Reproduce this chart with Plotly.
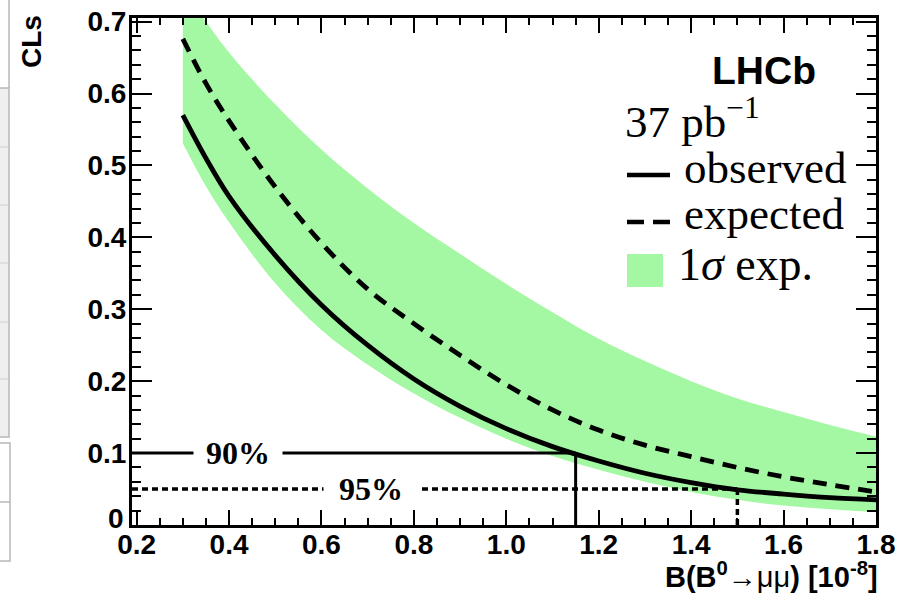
import plotly.graph_objects as go

# ---------------- data ----------------
x_grid = [0.3, 0.35, 0.4, 0.5, 0.6, 0.7, 0.8, 0.9, 1.0, 1.1, 1.2, 1.3, 1.4, 1.5, 1.6, 1.7, 1.8]
cls_observed = [0.570, 0.510, 0.457, 0.375, 0.306, 0.250, 0.203, 0.165, 0.134, 0.109, 0.089,
                0.072, 0.059, 0.049, 0.043, 0.038, 0.035]
cls_expected = [0.676, 0.614, 0.562, 0.470, 0.392, 0.328, 0.280, 0.236, 0.195, 0.160, 0.132,
                0.111, 0.095, 0.080, 0.067, 0.056, 0.046]
band_upper = [0.745, 0.700, 0.657, 0.585, 0.522, 0.468, 0.420, 0.377, 0.335, 0.296, 0.259,
              0.228, 0.200, 0.176, 0.157, 0.139, 0.123]
band_lower = [0.531, 0.471, 0.421, 0.336, 0.271, 0.223, 0.183, 0.149, 0.120, 0.096, 0.077,
              0.060, 0.046, 0.035, 0.027, 0.022, 0.018]

cl_levels = [0.10, 0.05]          # 90% and 95% CL levels
cl_limits = [1.15, 1.50]          # observed limits at 90% and 95% CL
cl_names = ["90%", "95%"]

x_range = [0.19, 1.8]
y_range = [0.0, 0.705]
x_tickvals = [0.2, 0.4, 0.6, 0.8, 1.0, 1.2, 1.4, 1.6, 1.8]
x_ticktext = ["0.2", "0.4", "0.6", "0.8", "1.0", "1.2", "1.4", "1.6", "1.8"]
y_tickvals = [0.0, 0.1, 0.2, 0.3, 0.4, 0.5, 0.6, 0.7]
y_ticktext = ["0", "0.1", "0.2", "0.3", "0.4", "0.5", "0.6", "0.7"]

GREEN = "#a4f8a4"
W, H = 897, 596
L, R, T, B = 132, 21, 18, 71


def px(xp):
    return (xp - L) / (W - L - R)


def py(yp):
    return 1 - (yp - T) / (H - T - B)


fig = go.Figure()

# 1 sigma band
fig.add_trace(go.Scatter(x=x_grid, y=band_lower, mode="lines", line=dict(width=0, shape="spline"),
                         showlegend=False, hoverinfo="skip"))
fig.add_trace(go.Scatter(x=x_grid, y=band_upper, mode="lines", line=dict(width=0, shape="spline"),
                         fill="tonexty", fillcolor=GREEN, showlegend=False, hoverinfo="skip"))
# expected
fig.add_trace(go.Scatter(x=x_grid, y=cls_expected, mode="lines",
                         line=dict(color="black", width=4.8, dash="14px,9px", shape="spline"),
                         showlegend=False))
# observed
fig.add_trace(go.Scatter(x=x_grid, y=cls_observed, mode="lines",
                         line=dict(color="black", width=4.8, shape="spline"),
                         showlegend=False))

shapes = []
annotations = []
styles = [dict(color="black", width=3), dict(color="black", width=3.5, dash="6px,4px")]
label_pos = [(238, 86), (371, 92)]
for lvl, lim, name, st, (lx, lw) in zip(cl_levels, cl_limits, cl_names, styles, label_pos):
    shapes.append(dict(type="line", xref="x", yref="y", x0=x_range[0], x1=lim, y0=lvl, y1=lvl,
                       line=st, layer="above"))
    shapes.append(dict(type="line", xref="x", yref="y", x0=lim, x1=lim, y0=0, y1=lvl,
                       line=st, layer="above"))
    annotations.append(dict(xref="paper", yref="y", x=px(lx), y=lvl, text="<b>%s</b>" % name,
                            showarrow=False, xanchor="center", yanchor="middle", width=lw,
                            bgcolor="white",
                            font=dict(family="Liberation Serif", size=32, color="black")))

tickfont = dict(family="Liberation Sans", size=28, color="black", weight="bold")

# the "0" label of the y axis sits slightly above its tick (as in the original)
y_ticktext_drawn = [("" if v == y_range[0] else t) for v, t in zip(y_tickvals, y_ticktext)]
annotations.append(dict(xref="paper", yref="paper", x=px(126), y=py(518),
                        text=y_ticktext[0], showarrow=False, xanchor="right", yanchor="middle",
                        font=tickfont))

# legend block
serif = dict(family="Liberation Serif", size=45, color="black")
annotations += [
    dict(xref="paper", yref="paper", x=px(818), y=py(71), text="<b>LHCb</b>", showarrow=False,
         xanchor="right", yanchor="middle",
         font=dict(family="Liberation Sans", size=39, color="black")),
    dict(xref="paper", yref="paper", x=px(623), y=py(118), text="37 pb<sup>−1</sup>",
         showarrow=False, xanchor="left", yanchor="middle", font=serif),
    dict(xref="paper", yref="paper", x=px(682), y=py(168), text="observed",
         showarrow=False, xanchor="left", yanchor="middle", font=serif),
    dict(xref="paper", yref="paper", x=px(682), y=py(214), text="expected",
         showarrow=False, xanchor="left", yanchor="middle", font=serif),
    dict(xref="paper", yref="paper", x=px(676), y=py(264), text="1<i>σ</i> exp.",
         showarrow=False, xanchor="left", yanchor="middle",
         font=dict(family="Liberation Serif", size=46, color="black")),
    # axis titles
    dict(xref="paper", yref="paper", x=px(880), y=py(575),
         text="<b>B(B<sup>0</sup></b>→μμ<b>) [10<sup>-8</sup>]</b>", showarrow=False,
         xanchor="right", yanchor="middle",
         font=dict(family="Liberation Sans", size=29, color="black")),
    dict(xref="paper", yref="paper", x=px(31), y=py(42), text="<b>CLs</b>", showarrow=False,
         textangle=-90, xanchor="center", yanchor="middle",
         font=dict(family="Liberation Sans", size=28, color="black")),
]
shapes += [
    dict(type="line", xref="paper", yref="paper", x0=px(627), x1=px(670), y0=py(175), y1=py(175),
         line=dict(color="black", width=4.5)),
    dict(type="line", xref="paper", yref="paper", x0=px(627), x1=px(671), y0=py(222), y1=py(222),
         line=dict(color="black", width=4.5, dash="17px,9px")),
    dict(type="rect", xref="paper", yref="paper", x0=px(627), x1=px(663), y0=py(254), y1=py(287),
         fillcolor=GREEN, line=dict(width=0)),
]

# page artefact on the far left (table edges)
gray = "#b8b8b8"
shapes += [
    dict(type="line", xref="paper", yref="paper", x0=px(9), x1=px(9), y0=py(0), y1=py(88),
         line=dict(color=gray, width=1.5)),
    dict(type="rect", xref="paper", yref="paper", x0=px(-2), x1=px(9), y0=py(88), y1=py(437),
         fillcolor="#efefef", line=dict(color=gray, width=1.5)),
    dict(type="rect", xref="paper", yref="paper", x0=px(-2), x1=px(10), y0=py(443), y1=py(561),
         fillcolor="white", line=dict(color=gray, width=1.5)),
]
for yl in [147, 205, 263, 322, 379]:
    shapes.append(dict(type="line", xref="paper", yref="paper", x0=px(-2), x1=px(9),
                       y0=py(yl), y1=py(yl), line=dict(color="#d0d0d0", width=1)))
shapes.append(dict(type="line", xref="paper", yref="paper", x0=px(-2), x1=px(10),
                   y0=py(502), y1=py(502), line=dict(color=gray, width=1.5)))

fig.update_layout(
    width=W, height=H, margin=dict(l=L, r=R, t=T, b=B, autoexpand=False),
    paper_bgcolor="white", plot_bgcolor="white",
    shapes=shapes, annotations=annotations, showlegend=False,
    xaxis=dict(range=x_range, tickmode="array", tickvals=x_tickvals, ticktext=x_ticktext,
               ticks="inside", ticklen=15, tickwidth=2, tickcolor="black",
               showline=True, linewidth=3, linecolor="black", mirror="ticks",
               showgrid=False, zeroline=False, tickfont=tickfont, ticklabelstandoff=-8,
               automargin=False,
               minor=dict(tickmode="linear", tick0=0.2, dtick=0.05, ticks="inside", ticklen=7,
                          tickwidth=2, tickcolor="black", showgrid=False)),
    yaxis=dict(range=y_range, tickmode="array", tickvals=y_tickvals, ticktext=y_ticktext_drawn,
               ticks="inside", ticklen=20, tickwidth=2, tickcolor="black",
               showline=True, linewidth=3, linecolor="black", mirror="ticks",
               showgrid=False, zeroline=False, tickfont=tickfont, ticklabelstandoff=-3,
               automargin=False,
               minor=dict(tickmode="linear", tick0=0, dtick=0.02, ticks="inside", ticklen=9,
                          tickwidth=2, tickcolor="black", showgrid=False)),
)

fig.write_html("out.html")
